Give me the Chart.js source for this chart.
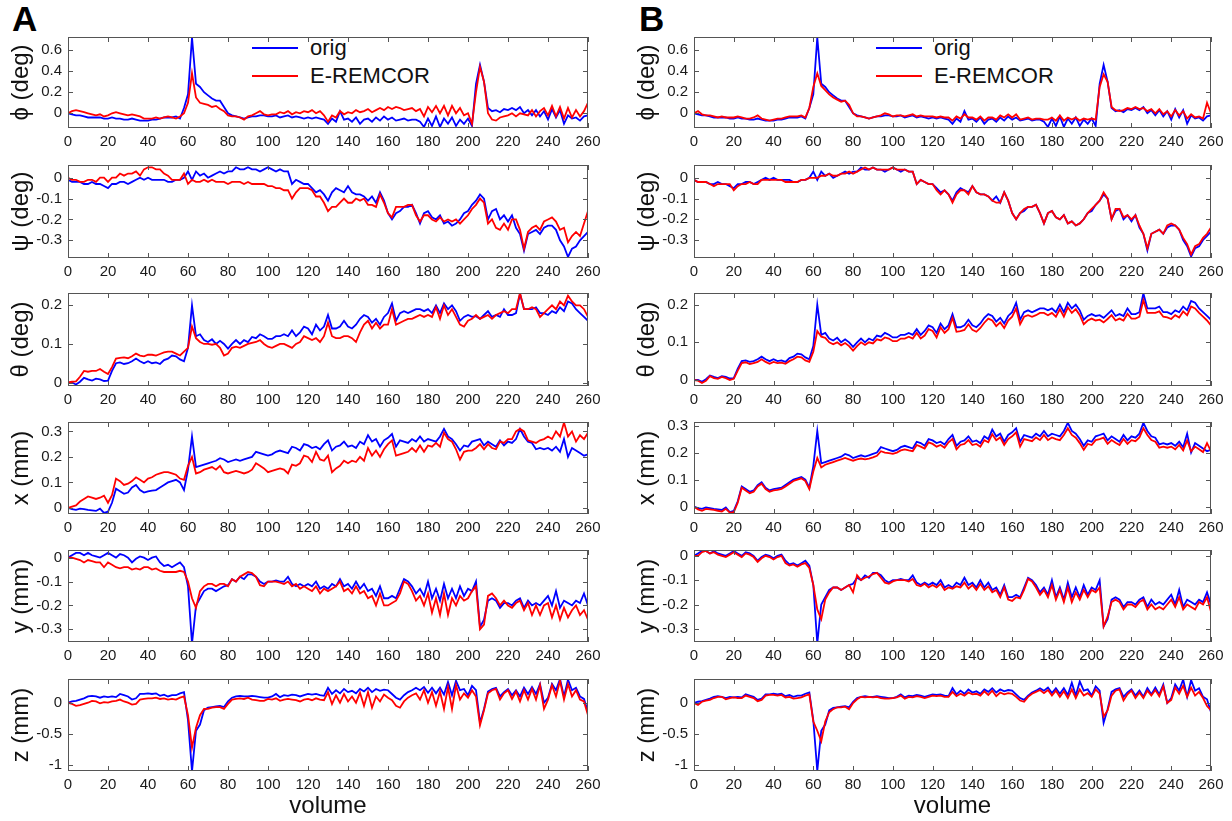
<!DOCTYPE html>
<html>
<head>
<meta charset="utf-8">
<script src="https://cdn.jsdelivr.net/npm/chart.js@4.4.1/dist/chart.umd.min.js"></script>
<style>
  body { margin: 0; background: #fff; width: 1232px; height: 821px; position: relative; overflow: hidden;
         font-family: "Liberation Sans", Arial, Helvetica, sans-serif; }
  canvas { position: absolute; }
  .tag { position: absolute; font-weight: bold; font-size: 35px; line-height: 35px; color: #000; }
  .legend { position: absolute; font-size: 22px; line-height: 24px; color: #111; }
  .legend .row { position: relative; height: 28px; }
  .legend .swatch { position: absolute; left: 0; top: 11px; width: 46px; height: 0; border-top: 2px solid; }
  .legend .label { position: absolute; left: 58px; top: 0; white-space: nowrap; }
</style>
</head>
<body>
<div class="tag" style="left:12px;top:1px">A</div>
<div class="tag" style="left:639px;top:1px">B</div>

<div class="legend" style="left:252px;top:36px">
  <div class="row"><span class="swatch" style="border-color:#0000ff"></span><span class="label">orig</span></div>
  <div class="row"><span class="swatch" style="border-color:#ff0000"></span><span class="label">E-REMCOR</span></div>
</div>
<div class="legend" style="left:876px;top:36px">
  <div class="row"><span class="swatch" style="border-color:#0000ff"></span><span class="label">orig</span></div>
  <div class="row"><span class="swatch" style="border-color:#ff0000"></span><span class="label">E-REMCOR</span></div>
</div>

<script>
// --- volume index (every 2nd volume) ---
const volume = [
  0, 2, 4, 6, 8, 10, 12, 14, 16, 18,
  20, 22, 24, 26, 28, 30, 32, 34, 36, 38,
  40, 42, 44, 46, 48, 50, 52, 54, 56, 58,
  60, 62, 64, 66, 68, 70, 72, 74, 76, 78,
  80, 82, 84, 86, 88, 90, 92, 94, 96, 98,
  100, 102, 104, 106, 108, 110, 112, 114, 116, 118,
  120, 122, 124, 126, 128, 130, 132, 134, 136, 138,
  140, 142, 144, 146, 148, 150, 152, 154, 156, 158,
  160, 162, 164, 166, 168, 170, 172, 174, 176, 178,
  180, 182, 184, 186, 188, 190, 192, 194, 196, 198,
  200, 202, 204, 206, 208, 210, 212, 214, 216, 218,
  220, 222, 224, 226, 228, 230, 232, 234, 236, 238,
  240, 242, 244, 246, 248, 250, 252, 254, 256, 258,
  260
];

// --- tick labels ---
const volumeTicks = [0, 20, 40, 60, 80, 100, 120, 140, 160, 180, 200, 220, 240, 260];
const phiTicks = [0, 0.2, 0.4, 0.6];
const psiTicks = [0, -0.1, -0.2, -0.3];
const thetaTicks = [0, 0.1, 0.2];
const xTicks = [0, 0.1, 0.2, 0.3];
const yTicks = [0, -0.1, -0.2, -0.3];
const zTicks = [0, -0.5, -1];

// --- phi (deg) ---
const phiOrig = [
  0, -0.01, -0.02, -0.02, -0.03, -0.04, -0.04, -0.04, -0.04, -0.05,
  -0.05, -0.04, -0.05, -0.05, -0.06, -0.06, -0.05, -0.06, -0.07, -0.07,
  -0.07, -0.06, -0.06, -0.05, -0.04, -0.04, -0.04, -0.03, -0.05, 0.05,
  0.18, 0.72, 0.28, 0.25, 0.2, 0.17, 0.14, 0.12, 0.12, 0.06,
  0.0, -0.02, -0.03, -0.04, -0.05, -0.04, -0.03, -0.03, -0.02, -0.02,
  -0.03, -0.03, -0.02, -0.04, -0.03, -0.02, -0.04, -0.03, -0.04, -0.05,
  -0.04, -0.05, -0.04, -0.05, -0.06, -0.1, -0.05, -0.08, 0.02, -0.06,
  -0.05, -0.08, -0.04, -0.1, -0.06, -0.05, -0.08, -0.04, -0.07, -0.03,
  -0.06, -0.04, -0.07, -0.06, -0.05, -0.07, -0.06, -0.06, -0.08, -0.13,
  -0.05, -0.12, -0.03, -0.13, -0.05, -0.1, -0.04, -0.12, -0.06, -0.1,
  -0.05, -0.12, 0.28, 0.46, 0.3, 0.05, 0.02, 0.03, 0.01, 0.04,
  0.03, 0.05, 0.03, 0.06, 0.0, 0.03, -0.02, 0.03, -0.03, 0.02,
  -0.06, 0.04, -0.04, 0.03, -0.1, -0.02, -0.05, -0.04, -0.07, -0.03,
  -0.02
];
const phiRemcorA = [
  0, 0.02, 0.03, 0.02, 0.01, 0.0, -0.01, -0.02, -0.01, -0.03,
  -0.02, 0.0, 0.01, 0.0, -0.01, -0.02, -0.01, -0.02, -0.03, -0.05,
  -0.05, -0.05, -0.04, -0.05, -0.04, -0.03, -0.04, -0.05, -0.03, 0.0,
  0.1, 0.38, 0.15, 0.1, 0.09, 0.08, 0.06, 0.07, 0.04, 0.02,
  -0.02, -0.03, -0.03, -0.04, -0.06, -0.03, -0.02, 0.0, 0.02, -0.01,
  -0.02, -0.01, -0.01, 0.01, 0.0, 0.02, -0.01, 0.01, 0.0, 0.02,
  0.01, 0.03, 0.0, 0.02, -0.02, -0.08, -0.02, -0.04, 0.02, -0.01,
  0.01, 0.0, 0.03, 0.01, 0.02, 0.04, 0.01, 0.03, 0.05, 0.03,
  0.06, 0.04, 0.06, 0.05, 0.03, 0.04, 0.05, 0.02, 0.04, -0.03,
  0.06, 0.01, 0.07, 0.0, 0.07, -0.02, 0.07, 0.0, 0.05, -0.02,
  0.0, -0.1, 0.2, 0.44, 0.3, 0.0, -0.06, -0.07, -0.04, -0.03,
  -0.02, 0.0, -0.03, 0.0, -0.01, -0.02, 0.03, -0.03, 0.02, 0.05,
  -0.02, 0.07, -0.03, 0.06, -0.05, 0.05, -0.04, 0.03, -0.03, 0.02,
  0.1
];
const phiRemcorB = [
  0, 0.02, -0.01, -0.02, -0.02, -0.03, -0.04, -0.03, -0.04, -0.04,
  -0.04, -0.03, -0.04, -0.05, -0.05, -0.04, -0.02, -0.05, -0.06, -0.07,
  -0.06, -0.05, -0.05, -0.04, -0.03, -0.03, -0.03, -0.02, -0.04, 0.05,
  0.25, 0.38, 0.26, 0.22, 0.18, 0.15, 0.13, 0.11, 0.12, 0.08,
  0.0, -0.03, -0.03, -0.04, -0.05, -0.04, -0.03, -0.02, 0.0, -0.01,
  -0.03, -0.02, -0.02, -0.03, -0.02, -0.01, -0.03, -0.02, -0.03, -0.03,
  -0.03, -0.04, -0.03, -0.04, -0.04, -0.07, -0.03, -0.05, -0.01, -0.04,
  -0.04, -0.06, -0.03, -0.07, -0.04, -0.04, -0.06, -0.02, -0.04, -0.01,
  -0.04, -0.01, -0.06, -0.05, -0.04, -0.06, -0.05, -0.05, -0.06, -0.06,
  -0.04, -0.07, -0.02, -0.07, -0.04, -0.06, -0.04, -0.07, -0.05, -0.06,
  -0.05, -0.06, 0.25, 0.37, 0.3, 0.06, 0.03, 0.02, 0.03, 0.05,
  0.04, 0.06, 0.04, 0.05, 0.02, 0.04, 0.0, 0.04, -0.01, 0.02,
  -0.03, 0.03, -0.02, 0.02, -0.05, -0.01, -0.04, -0.03, -0.05, 0.1,
  0.0
];

// --- psi (deg) ---
const psiOrig = [
  -0.01, -0.02, -0.02, -0.02, -0.03, -0.03, -0.02, -0.03, -0.03, -0.04,
  -0.05, -0.03, -0.03, -0.02, -0.02, -0.03, -0.02, -0.01, 0.0, -0.01,
  0.0, -0.01, -0.01, -0.01, -0.01, -0.02, -0.02, -0.01, -0.01, 0.0,
  0.03, -0.01, 0.03, 0.01, 0.02, 0.0, 0.01, 0.02, 0.03, 0.02,
  0.03, 0.03, 0.05, 0.04, 0.04, 0.05, 0.04, 0.04, 0.03, 0.04,
  0.05, 0.04, 0.03, 0.04, 0.03, 0.03, -0.03, -0.01, -0.02, -0.03,
  -0.03, -0.05, -0.07, -0.06, -0.08, -0.11, -0.07, -0.05, -0.06, -0.07,
  -0.04, -0.07, -0.08, -0.08, -0.09, -0.11, -0.09, -0.12, -0.07, -0.11,
  -0.17, -0.2, -0.17, -0.16, -0.14, -0.14, -0.13, -0.17, -0.22, -0.17,
  -0.16, -0.19, -0.2, -0.18, -0.22, -0.21, -0.23, -0.22, -0.2, -0.17,
  -0.16, -0.13, -0.11, -0.08, -0.1, -0.2, -0.16, -0.15, -0.2, -0.18,
  -0.21, -0.18, -0.24, -0.27, -0.35, -0.27, -0.26, -0.25, -0.27, -0.24,
  -0.23, -0.23, -0.25, -0.3, -0.33, -0.38, -0.34, -0.33, -0.3, -0.28,
  -0.26
];
const psiRemcorA = [
  0, -0.01, -0.01, -0.02, -0.02, -0.01, -0.01, -0.02, 0.0, 0.0,
  -0.02, 0.0, 0.0, 0.02, 0.01, 0.02, 0.02, 0.03, 0.01, 0.04,
  0.05, 0.05, 0.04, 0.04, 0.02, 0.01, -0.01, -0.01, -0.01, 0.02,
  -0.03, -0.01, -0.02, -0.02, -0.01, -0.02, -0.01, -0.02, -0.02, -0.02,
  -0.03, -0.02, -0.02, -0.02, -0.03, -0.02, -0.03, -0.03, -0.03, -0.03,
  -0.04, -0.04, -0.05, -0.05, -0.06, -0.06, -0.1, -0.07, -0.05, -0.05,
  -0.05, -0.06, -0.09, -0.09, -0.12, -0.16, -0.14, -0.14, -0.12, -0.1,
  -0.12, -0.12, -0.1, -0.11, -0.1, -0.13, -0.13, -0.14, -0.08, -0.12,
  -0.17, -0.19, -0.14, -0.14, -0.14, -0.13, -0.13, -0.18, -0.21, -0.18,
  -0.18, -0.2, -0.21, -0.19, -0.21, -0.2, -0.21, -0.2, -0.22, -0.2,
  -0.18, -0.15, -0.13, -0.1, -0.12, -0.22, -0.2, -0.24, -0.25, -0.22,
  -0.25, -0.2, -0.2, -0.25, -0.34, -0.26, -0.24, -0.23, -0.25, -0.21,
  -0.2, -0.19, -0.21, -0.25, -0.24, -0.31, -0.28, -0.26, -0.28, -0.22,
  -0.16
];
const psiRemcorB = [
  -0.01, -0.02, -0.02, -0.02, -0.03, -0.04, -0.03, -0.03, -0.03, -0.03,
  -0.06, -0.04, -0.03, -0.03, -0.02, -0.03, -0.03, -0.01, -0.01, -0.01,
  -0.01, -0.01, -0.01, -0.02, -0.02, -0.02, -0.02, -0.01, -0.01, 0.0,
  0.0, 0.0, 0.01, 0.01, 0.02, 0.01, 0.01, 0.02, 0.02, 0.03,
  0.02, 0.03, 0.04, 0.05, 0.04, 0.05, 0.04, 0.04, 0.04, 0.04,
  0.05, 0.04, 0.04, 0.04, 0.03, 0.03, -0.03, -0.01, -0.02, -0.03,
  -0.03, -0.06, -0.08, -0.06, -0.08, -0.12, -0.08, -0.06, -0.06, -0.08,
  -0.04, -0.07, -0.08, -0.08, -0.09, -0.11, -0.12, -0.12, -0.07, -0.11,
  -0.17, -0.2, -0.17, -0.15, -0.14, -0.14, -0.13, -0.17, -0.22, -0.17,
  -0.16, -0.19, -0.2, -0.18, -0.22, -0.21, -0.23, -0.22, -0.2, -0.17,
  -0.15, -0.13, -0.11, -0.07, -0.1, -0.2, -0.15, -0.15, -0.19, -0.18,
  -0.2, -0.18, -0.23, -0.27, -0.34, -0.27, -0.26, -0.25, -0.27, -0.23,
  -0.22, -0.23, -0.25, -0.29, -0.32, -0.37, -0.33, -0.32, -0.29, -0.27,
  -0.24
];

// --- theta (deg) ---
const thetaOrig = [
  0, 0, -0.005, 0.002, 0.012, 0.008, 0.005, 0.01, 0.008, 0.004,
  0.005, 0.03, 0.05, 0.052, 0.048, 0.05, 0.055, 0.062, 0.055, 0.05,
  0.055, 0.05, 0.052, 0.048, 0.058, 0.062, 0.07, 0.068, 0.06, 0.055,
  0.09, 0.2, 0.12, 0.125, 0.11, 0.105, 0.112, 0.1, 0.108, 0.1,
  0.088, 0.1, 0.11, 0.1, 0.11, 0.105, 0.118, 0.115, 0.125, 0.12,
  0.113, 0.113, 0.12, 0.12, 0.125, 0.12, 0.135, 0.12, 0.13, 0.145,
  0.14, 0.125, 0.15, 0.135, 0.145, 0.175, 0.14, 0.14, 0.145, 0.16,
  0.145, 0.14, 0.15, 0.165, 0.175, 0.17, 0.155, 0.165, 0.15, 0.17,
  0.18, 0.205, 0.16, 0.18, 0.185, 0.18, 0.185, 0.19, 0.19, 0.185,
  0.19, 0.18, 0.2, 0.18, 0.205, 0.19, 0.2, 0.185, 0.16, 0.17,
  0.175, 0.17, 0.172, 0.165, 0.175, 0.185, 0.17, 0.175, 0.17, 0.19,
  0.175, 0.175, 0.18, 0.23, 0.19, 0.19, 0.19, 0.195, 0.18, 0.18,
  0.175, 0.185, 0.18, 0.195, 0.185, 0.21, 0.205, 0.19, 0.18, 0.17,
  0.16
];
const thetaRemcorA = [
  0, 0.002, 0.003, 0.015, 0.03, 0.028, 0.03, 0.03, 0.035, 0.028,
  0.022, 0.04, 0.062, 0.064, 0.065, 0.063, 0.068, 0.075, 0.07, 0.068,
  0.072, 0.072, 0.07, 0.074, 0.078, 0.08, 0.08, 0.075, 0.07, 0.08,
  0.09, 0.145, 0.115, 0.105, 0.1, 0.1, 0.098, 0.1, 0.09, 0.07,
  0.075, 0.09, 0.093, 0.09, 0.095, 0.1, 0.103, 0.105, 0.11, 0.1,
  0.093, 0.09, 0.095, 0.1, 0.1, 0.095, 0.09, 0.1, 0.105, 0.12,
  0.115, 0.11, 0.115, 0.105, 0.12, 0.155, 0.12, 0.115, 0.115, 0.12,
  0.12, 0.115, 0.105, 0.13, 0.15, 0.16, 0.14, 0.155, 0.14, 0.15,
  0.15, 0.19, 0.15, 0.155, 0.16, 0.165, 0.165, 0.17, 0.175, 0.17,
  0.175, 0.17, 0.195, 0.165, 0.2, 0.175, 0.19, 0.17, 0.15, 0.145,
  0.16, 0.165, 0.175, 0.165, 0.17, 0.175, 0.165, 0.175, 0.18, 0.185,
  0.18, 0.19, 0.19, 0.232, 0.19, 0.19, 0.195, 0.19, 0.17, 0.18,
  0.19, 0.2, 0.19, 0.21, 0.2, 0.225, 0.21, 0.2, 0.2, 0.19,
  0.17
];
const thetaRemcorB = [
  0, -0.002, -0.008, -0.002, 0.01, 0.005, 0.003, 0.008, 0.005, 0.0,
  0.003, 0.025, 0.045, 0.047, 0.042, 0.045, 0.048, 0.055, 0.048, 0.043,
  0.048, 0.045, 0.046, 0.043, 0.05, 0.055, 0.062, 0.06, 0.052, 0.048,
  0.075, 0.13, 0.115, 0.112, 0.1, 0.095, 0.1, 0.092, 0.098, 0.09,
  0.078, 0.09, 0.1, 0.093, 0.1, 0.097, 0.108, 0.105, 0.113, 0.11,
  0.103, 0.103, 0.11, 0.11, 0.115, 0.11, 0.125, 0.11, 0.118, 0.135,
  0.13, 0.113, 0.14, 0.125, 0.135, 0.165, 0.128, 0.13, 0.133, 0.148,
  0.133, 0.128, 0.138, 0.152, 0.163, 0.158, 0.143, 0.153, 0.138, 0.158,
  0.168, 0.19, 0.148, 0.168, 0.172, 0.168, 0.172, 0.178, 0.178, 0.172,
  0.178, 0.168, 0.188, 0.168, 0.193, 0.178, 0.188, 0.172, 0.148, 0.158,
  0.163, 0.158, 0.16, 0.153, 0.162, 0.172, 0.158, 0.163, 0.158, 0.176,
  0.163, 0.163, 0.168, 0.212, 0.178, 0.178, 0.178, 0.182, 0.168, 0.166,
  0.162, 0.172, 0.166, 0.182, 0.172, 0.195, 0.19, 0.178, 0.168, 0.158,
  0.145
];

// --- x (mm) ---
const xOrig = [
  0, -0.005, -0.008, -0.003, -0.005, -0.008, -0.01, -0.012, -0.003, -0.02,
  -0.015, 0.02, 0.075, 0.065, 0.055, 0.06, 0.08, 0.09, 0.07, 0.06,
  0.065, 0.068, 0.07, 0.08, 0.09, 0.1, 0.105, 0.11, 0.1, 0.07,
  0.15, 0.28, 0.16, 0.165, 0.17, 0.175, 0.18, 0.185, 0.195, 0.19,
  0.18, 0.185, 0.19, 0.185, 0.19, 0.195, 0.2, 0.22, 0.215, 0.21,
  0.205, 0.21, 0.22, 0.225, 0.22, 0.215, 0.24, 0.235, 0.225, 0.25,
  0.245, 0.235, 0.24, 0.23, 0.25, 0.265, 0.225, 0.24, 0.245, 0.26,
  0.24, 0.245, 0.235, 0.26, 0.25, 0.285, 0.26, 0.27, 0.24, 0.265,
  0.275, 0.29, 0.24, 0.265, 0.26, 0.255, 0.27, 0.26, 0.28, 0.26,
  0.27, 0.265, 0.26, 0.28, 0.31, 0.28, 0.27, 0.25, 0.225, 0.245,
  0.24, 0.26, 0.265, 0.27, 0.245, 0.26, 0.25, 0.24, 0.265, 0.245,
  0.26, 0.255, 0.27, 0.31, 0.28, 0.26, 0.255, 0.23, 0.235, 0.23,
  0.235, 0.225, 0.24, 0.22, 0.27, 0.2, 0.235, 0.225, 0.215, 0.205,
  0.21
];
const xRemcorA = [
  0, 0.005, 0.01, 0.025, 0.035, 0.045, 0.04, 0.035, 0.04, 0.048,
  0.02, 0.05, 0.115, 0.105, 0.09, 0.095, 0.105, 0.12, 0.11, 0.1,
  0.115, 0.12, 0.13, 0.135, 0.14, 0.14, 0.135, 0.13, 0.115, 0.11,
  0.165, 0.2, 0.135, 0.14, 0.15, 0.155, 0.16, 0.15, 0.165, 0.14,
  0.135, 0.14, 0.145, 0.14, 0.135, 0.14, 0.15, 0.175, 0.165, 0.155,
  0.14, 0.145, 0.15, 0.155, 0.15, 0.135, 0.17, 0.165, 0.175, 0.205,
  0.2, 0.18, 0.22, 0.19, 0.185, 0.205, 0.14, 0.155, 0.165, 0.185,
  0.175, 0.185, 0.18, 0.2, 0.185, 0.235, 0.205, 0.225, 0.2, 0.23,
  0.25, 0.265, 0.205, 0.21, 0.215, 0.22, 0.235, 0.22, 0.245, 0.22,
  0.245, 0.24, 0.255, 0.24, 0.295, 0.27, 0.26, 0.23, 0.19, 0.22,
  0.225, 0.225, 0.235, 0.25, 0.23, 0.25, 0.235, 0.23, 0.26, 0.255,
  0.27, 0.27, 0.3, 0.31, 0.3, 0.265, 0.26, 0.255, 0.265, 0.27,
  0.28, 0.27, 0.3, 0.28, 0.335, 0.28, 0.3, 0.26, 0.285, 0.27,
  0.295
];
const xRemcorB = [
  0, -0.01, -0.015, -0.008, -0.01, -0.012, -0.015, -0.018, -0.008, -0.022,
  -0.02, 0.015, 0.07, 0.06, 0.05, 0.055, 0.075, 0.085, 0.065, 0.055,
  0.06, 0.062, 0.066, 0.075, 0.085, 0.095, 0.1, 0.105, 0.095, 0.065,
  0.13, 0.18, 0.145, 0.155, 0.16, 0.165, 0.17, 0.175, 0.18, 0.175,
  0.17, 0.175, 0.178, 0.175, 0.178, 0.182, 0.188, 0.205, 0.2, 0.198,
  0.195, 0.2, 0.208, 0.212, 0.208, 0.205, 0.228, 0.222, 0.215, 0.238,
  0.232, 0.222, 0.228, 0.218, 0.238, 0.25, 0.212, 0.228, 0.232, 0.246,
  0.228, 0.232, 0.222, 0.246, 0.238, 0.268, 0.246, 0.256, 0.228, 0.25,
  0.26, 0.275, 0.222, 0.25, 0.246, 0.242, 0.256, 0.246, 0.265, 0.246,
  0.256, 0.25, 0.246, 0.265, 0.29, 0.265, 0.255, 0.235, 0.21, 0.232,
  0.228, 0.246, 0.25, 0.255, 0.232, 0.246, 0.236, 0.228, 0.25, 0.232,
  0.246, 0.242, 0.256, 0.29, 0.265, 0.246, 0.24, 0.218, 0.222, 0.218,
  0.222, 0.212, 0.228, 0.208, 0.245, 0.205, 0.222, 0.212, 0.202, 0.235,
  0.205
];

// --- y (mm) ---
const yOrig = [
  0, 0.01, 0.02, 0.02, 0.01, 0.02, 0.01, 0.005, 0.0, 0.01,
  0.02, 0.01, 0.0, 0.015, 0.01, 0.0, -0.02, -0.005, 0.005, 0.0,
  -0.01, 0.0, 0.005, -0.02, -0.035, -0.03, -0.04, -0.03, -0.02, -0.04,
  -0.12, -0.36, -0.2, -0.17, -0.14, -0.13, -0.13, -0.14, -0.13, -0.12,
  -0.115, -0.09, -0.1, -0.08, -0.09, -0.07, -0.07, -0.08, -0.1, -0.11,
  -0.1, -0.1, -0.095, -0.1, -0.1, -0.08, -0.11, -0.12, -0.11, -0.12,
  -0.11, -0.12, -0.1, -0.13, -0.12, -0.13, -0.11, -0.12, -0.09, -0.12,
  -0.11, -0.13, -0.1, -0.13, -0.11, -0.14, -0.13, -0.16, -0.12, -0.17,
  -0.17, -0.16, -0.17, -0.13, -0.09, -0.1, -0.12, -0.15, -0.13, -0.16,
  -0.1, -0.17, -0.13, -0.18, -0.11, -0.17, -0.13, -0.17, -0.12, -0.16,
  -0.13, -0.14, -0.1, -0.29, -0.26, -0.18, -0.17, -0.18, -0.21, -0.19,
  -0.19, -0.2, -0.18, -0.17, -0.21, -0.18, -0.2, -0.19, -0.2, -0.18,
  -0.16, -0.2, -0.14, -0.21, -0.18, -0.19, -0.2, -0.18, -0.19, -0.15,
  -0.2
];
const yRemcorA = [
  0, 0, -0.005, -0.01, -0.02, -0.01, -0.015, -0.02, -0.02, -0.04,
  -0.02, -0.03, -0.04, -0.045, -0.04, -0.04, -0.05, -0.045, -0.05, -0.04,
  -0.04, -0.05, -0.045, -0.055, -0.06, -0.06, -0.06, -0.06, -0.055, -0.06,
  -0.1, -0.17, -0.21, -0.14, -0.12, -0.11, -0.11, -0.12, -0.11, -0.11,
  -0.12, -0.09, -0.1, -0.08, -0.07, -0.06, -0.065, -0.08, -0.115, -0.12,
  -0.1, -0.1, -0.1, -0.105, -0.11, -0.1, -0.12, -0.11, -0.13, -0.12,
  -0.13, -0.14, -0.12, -0.15, -0.13, -0.14, -0.13, -0.12, -0.1, -0.14,
  -0.13, -0.15, -0.12, -0.15, -0.14, -0.17, -0.16, -0.2, -0.15, -0.2,
  -0.2, -0.19, -0.18, -0.15, -0.1, -0.11, -0.14, -0.18, -0.16, -0.2,
  -0.15, -0.23, -0.17, -0.24, -0.15, -0.24, -0.17, -0.2, -0.16, -0.18,
  -0.17, -0.14, -0.12, -0.3, -0.28, -0.16, -0.15, -0.17, -0.2, -0.18,
  -0.2, -0.21, -0.19, -0.18, -0.22, -0.19, -0.24, -0.2, -0.24, -0.2,
  -0.19, -0.25, -0.2, -0.26, -0.21, -0.25, -0.22, -0.2, -0.24, -0.22,
  -0.26
];
const yRemcorB = [
  0, 0, 0.015, 0.02, 0.01, 0.015, 0.005, 0, -0.005, 0.005,
  0.015, 0.005, -0.005, 0.01, 0.005, -0.005, -0.025, -0.01, 0, -0.005,
  -0.015, -0.005, 0, -0.03, -0.04, -0.035, -0.045, -0.035, -0.03, -0.05,
  -0.12, -0.22, -0.26, -0.18, -0.15, -0.13, -0.13, -0.14, -0.13, -0.12,
  -0.15, -0.08, -0.1, -0.09, -0.085, -0.075, -0.07, -0.09, -0.11, -0.115,
  -0.105, -0.1, -0.1, -0.1, -0.105, -0.095, -0.12, -0.125, -0.115, -0.13,
  -0.12, -0.13, -0.115, -0.14, -0.13, -0.135, -0.125, -0.13, -0.11, -0.135,
  -0.12, -0.14, -0.115, -0.14, -0.125, -0.15, -0.14, -0.17, -0.13, -0.18,
  -0.185, -0.17, -0.175, -0.14, -0.095, -0.105, -0.13, -0.16, -0.14, -0.17,
  -0.12, -0.18, -0.14, -0.19, -0.13, -0.19, -0.15, -0.18, -0.14, -0.17,
  -0.14, -0.15, -0.13, -0.29, -0.25, -0.19, -0.18, -0.19, -0.22, -0.2,
  -0.2, -0.21, -0.19, -0.18, -0.22, -0.2, -0.22, -0.21, -0.22, -0.2,
  -0.18, -0.21, -0.17, -0.22, -0.2, -0.21, -0.22, -0.19, -0.2, -0.17,
  -0.23
];

// --- z (mm) ---
const zOrig = [
  0, 0.02, 0.03, 0.05, 0.07, 0.1, 0.11, 0.1, 0.08, 0.1,
  0.09, 0.1, 0.09, 0.14, 0.12, 0.1, 0.05, 0.07, 0.14, 0.14,
  0.15, 0.14, 0.15, 0.11, 0.13, 0.1, 0.12, 0.12, 0.15, 0.17,
  -0.28, -1.1, -0.45, -0.35, -0.12, -0.08, -0.07, -0.06, -0.05, -0.07,
  0.02, 0.08, 0.1, 0.11, 0.1, 0.1, 0.11, 0.1, 0.09, 0.08,
  0.08, 0.1, 0.14, 0.09, 0.12, 0.11, 0.13, 0.12, 0.1, 0.12,
  0.14, 0.13, 0.14, 0.12, 0.11, 0.24, 0.14, 0.2, 0.15, 0.22,
  0.17, 0.19, 0.15, 0.22, 0.18, 0.24, 0.17, 0.22, 0.19, 0.21,
  0.2, 0.14, 0.08, 0.05, 0.12, 0.17, 0.2, 0.24, 0.2, 0.25,
  0.16, 0.24, 0.15, 0.24, 0.13, 0.33, 0.12, 0.35, 0.2, 0.22,
  0.12, 0.27, 0.2, -0.32, -0.1, 0.18, 0.22, 0.24, 0.1, 0.17,
  0.22, 0.12, 0.2, 0.1, 0.24, 0.14, 0.25, 0.14, 0.3, 0.0,
  0.08, 0.3, 0.2, 0.38, 0.1, 0.37, 0.2, 0.24, 0.1, 0.06,
  -0.15
];
const zRemcorA = [
  0, -0.02, -0.05, -0.04, -0.02, 0, 0.03, 0.02, -0.01, 0.01,
  0, 0.02, 0.03, 0.05, 0.02, 0, -0.03, -0.02, 0.05, 0.06,
  0.07, 0.07, 0.08, 0.06, 0.07, 0.05, 0.06, 0.05, 0.08, 0.1,
  -0.2, -0.72, -0.4, -0.2, -0.1, -0.1, -0.08, -0.07, -0.07, -0.1,
  -0.02, 0.05, 0.06, 0.07, 0.06, 0.08, 0.05, 0.04, 0.03, 0.03,
  0.06, 0.05, 0.07, 0.03, 0.05, 0.06, 0.05, 0.04, 0.02, 0.05,
  0.06, 0.04, 0.07, 0.05, 0.04, 0.17, -0.02, 0.12, 0, 0.14,
  0.02, 0.1, 0, 0.16, -0.05, 0.17, -0.08, 0.1, 0.02, 0.13,
  0.08, 0.04, -0.05, -0.08, 0.02, 0.08, 0.12, 0.15, 0.05, 0.2,
  0, 0.17, -0.05, 0.18, -0.1, 0.25, -0.1, 0.28, 0.05, 0.15,
  0.08, 0.2, 0.1, -0.36, -0.12, 0.15, 0.2, 0.22, 0.05, 0.15,
  0.2, 0.06, 0.18, 0.02, 0.2, 0.05, 0.22, 0.05, 0.28, -0.1,
  0.05, 0.28, 0.1, 0.35, 0.05, 0.3, 0.1, 0.2, 0.05, 0.02,
  -0.2
];
const zRemcorB = [
  0, -0.03, 0.02, 0.04, 0.05, 0.08, 0.1, 0.1, 0.06, 0.08,
  0.09, 0.08, 0.08, 0.12, 0.1, 0.08, 0.03, 0.05, 0.12, 0.13,
  0.13, 0.12, 0.13, 0.09, 0.1, 0.07, 0.08, 0.09, 0.12, 0.14,
  -0.3, -0.45, -0.62, -0.3, -0.15, -0.1, -0.07, -0.07, -0.06, -0.1,
  0, 0.06, 0.1, 0.09, 0.1, 0.09, 0.1, 0.08, 0.07, 0.07,
  0.08, 0.09, 0.12, 0.07, 0.1, 0.09, 0.11, 0.1, 0.08, 0.1,
  0.12, 0.11, 0.12, 0.1, 0.1, 0.18, 0.11, 0.15, 0.12, 0.17,
  0.14, 0.15, 0.12, 0.19, 0.13, 0.2, 0.11, 0.17, 0.14, 0.16,
  0.15, 0.1, 0.04, 0.02, 0.1, 0.15, 0.18, 0.21, 0.16, 0.21,
  0.12, 0.2, 0.1, 0.19, 0.08, 0.22, 0.08, 0.22, 0.12, 0.16,
  0.1, 0.22, 0.15, -0.22, -0.12, 0.12, 0.2, 0.22, 0.04, 0.14,
  0.2, 0.08, 0.17, 0.08, 0.2, 0.12, 0.21, 0.11, 0.27, 0,
  0.05, 0.25, 0.15, 0.28, 0.1, 0.25, 0.12, 0.18, 0.08, -0.05,
  -0.12
];

// one row per motion parameter; lim = [min, max] of the y axis in each panel
const rows = [
  { title: 'ϕ (deg)', ticks: phiTicks, orig: phiOrig, A: phiRemcorA, B: phiRemcorB, limA: [-0.14, 0.725], limB: [-0.14, 0.725] },
  { title: 'ψ (deg)', ticks: psiTicks, orig: psiOrig, A: psiRemcorA, B: psiRemcorB, limA: [-0.385, 0.061], limB: [-0.387, 0.062] },
  { title: 'θ (deg)', ticks: thetaTicks, orig: thetaOrig, A: thetaRemcorA, B: thetaRemcorB, limA: [-0.009, 0.232], limB: [-0.016, 0.231] },
  { title: 'x (mm)', ticks: xTicks, orig: xOrig, A: xRemcorA, B: xRemcorB, limA: [-0.024, 0.337], limB: [-0.027, 0.313] },
  { title: 'y (mm)', ticks: yTicks, orig: yOrig, A: yRemcorA, B: yRemcorB, limA: [-0.353, 0.032], limB: [-0.354, 0.024] },
  { title: 'z (mm)', ticks: zTicks, orig: zOrig, A: zRemcorA, B: zRemcorB, limA: [-1.095, 0.38], limB: [-1.103, 0.389] }
];

// page layout of the plot boxes
const rowTop = [37, 165, 293, 422, 550, 679];
const rowBottom = [128, 258, 386, 514, 642, 771];
const panelBox = { A: [68, 588], B: [694, 1211] };
const AXIS_W = 68, PAD_TOP = 22, PAD_RIGHT = 20;

const FONT = '"Liberation Sans", Arial, Helvetica, sans-serif';
Chart.defaults.font.family = FONT;
Chart.defaults.color = '#1a1a1a';

// box around the axes with inward tick marks on all four sides
const boxTicks = {
  id: 'boxTicks',
  afterDatasetsDraw(chart) {
    const { ctx, chartArea: a, scales: { x, y } } = chart;
    const len = 5;
    ctx.save();
    ctx.strokeStyle = '#555';
    ctx.lineWidth = 1;
    ctx.beginPath();
    x.ticks.forEach(t => {
      const px = Math.round(x.getPixelForValue(t.value)) + 0.5;
      ctx.moveTo(px, a.top); ctx.lineTo(px, a.top + len);
      ctx.moveTo(px, a.bottom); ctx.lineTo(px, a.bottom - len);
    });
    y.ticks.forEach(t => {
      const py = Math.round(y.getPixelForValue(t.value)) + 0.5;
      ctx.moveTo(a.left, py); ctx.lineTo(a.left + len, py);
      ctx.moveTo(a.right, py); ctx.lineTo(a.right - len, py);
    });
    ctx.stroke();
    ctx.strokeRect(Math.round(a.left) + 0.5, Math.round(a.top) + 0.5,
                   Math.round(a.right - a.left) - 1, Math.round(a.bottom - a.top) - 1);
    ctx.restore();
  }
};

function series(values) {
  return volume.map((v, i) => ({ x: v, y: values[i] }));
}

function makeChart(panel, r) {
  const row = rows[r];
  const last = r === rows.length - 1;
  const [left, right] = panelBox[panel];
  const bottomH = last ? 50 : 30;
  const lim = panel === 'A' ? row.limA : row.limB;

  const canvas = document.createElement('canvas');
  const w = AXIS_W + (right - left) + PAD_RIGHT;
  const h = PAD_TOP + (rowBottom[r] - rowTop[r]) + bottomH;
  canvas.width = w; canvas.height = h;
  canvas.style.left = (left - AXIS_W) + 'px';
  canvas.style.top = (rowTop[r] - PAD_TOP) + 'px';
  canvas.style.width = w + 'px'; canvas.style.height = h + 'px';
  document.body.appendChild(canvas);

  new Chart(canvas.getContext('2d'), {
    type: 'line',
    data: {
      datasets: [
        { label: 'E-REMCOR', data: series(row[panel]), borderColor: '#ff0000', order: 0 },
        { label: 'orig', data: series(row.orig), borderColor: '#0000ff', order: 1 }
      ]
    },
    options: {
      responsive: false,
      animation: false,
      events: [],
      layout: { padding: { top: PAD_TOP, right: PAD_RIGHT, left: 0, bottom: 0 } },
      elements: {
        line: { borderWidth: 1.8, tension: 0 },
        point: { radius: 0 }
      },
      plugins: { legend: { display: false }, tooltip: { enabled: false } },
      scales: {
        x: {
          type: 'linear', min: 0, max: 260,
          grid: { display: false, drawTicks: false },
          border: { display: false },
          afterBuildTicks: s => { s.ticks = volumeTicks.map(v => ({ value: v })); },
          afterFit: s => { s.height = bottomH; },
          ticks: { autoSkip: false, maxRotation: 0, padding: 5, font: { size: 15 }, color: '#1a1a1a' },
          title: { display: last, text: 'volume', font: { size: 24 }, color: '#111', padding: { top: 0, bottom: 0 } }
        },
        y: {
          type: 'linear', min: lim[0], max: lim[1],
          grid: { display: false, drawTicks: false },
          border: { display: false },
          afterBuildTicks: s => { s.ticks = row.ticks.map(v => ({ value: v })); },
          afterFit: s => { s.width = AXIS_W; },
          ticks: { padding: 6, font: { size: 15 }, color: '#1a1a1a', callback: v => String(v) },
          title: { display: true, text: row.title, font: { size: 24 }, color: '#111', padding: { top: 7, bottom: 0 } }
        }
      }
    },
    plugins: [boxTicks]
  });
}

['A', 'B'].forEach(panel => rows.forEach((row, r) => makeChart(panel, r)));
</script>
</body>
</html>
